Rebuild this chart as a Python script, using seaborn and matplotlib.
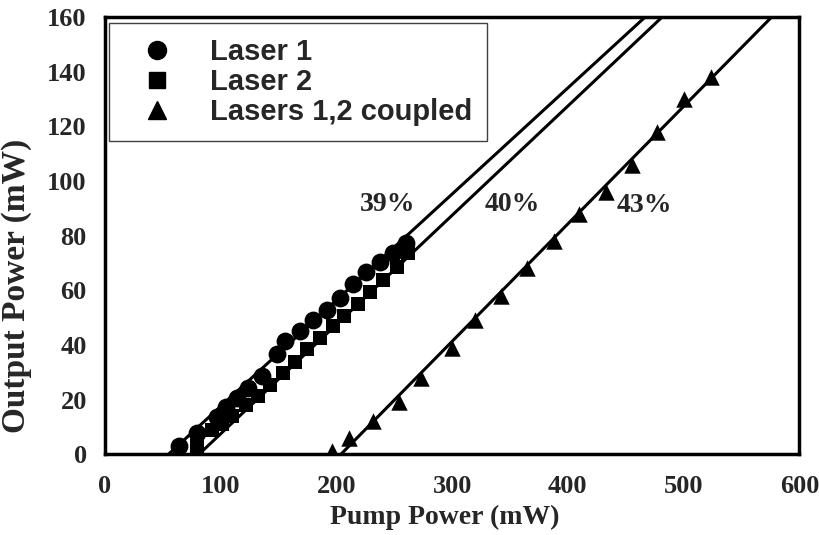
import matplotlib
matplotlib.use("Agg")
import matplotlib.pyplot as plt
from matplotlib.lines import Line2D
import seaborn as sns

# ---- data ----
laser1_pump = [64, 80, 97, 105, 114, 124, 136, 149, 156, 169, 180, 192, 203, 214, 226, 238, 249, 260]
laser1_out = [2.9, 7.7, 13.6, 17.2, 20.5, 24.2, 28.6, 36.6, 41.4, 45.1, 49.1, 52.7, 57.1, 62.3, 66.7, 70.3, 73.6, 77.3]

laser2_pump = [80, 93, 101, 110, 122, 132, 143, 154, 164, 175, 186, 197, 207, 219, 229, 240, 252, 262]
laser2_out = [2.9, 8.8, 11.0, 13.9, 18.0, 21.2, 25.3, 29.7, 33.7, 38.5, 42.5, 46.9, 50.5, 55.0, 59.3, 63.7, 68.5, 73.6]

coupled_pump = [196, 211, 232, 254, 273, 300, 320, 342, 365, 388, 410, 433, 455, 477, 500, 524]
coupled_out = [1.0, 6.0, 12.0, 19.0, 28.0, 39.0, 49.0, 58.0, 68.0, 78.0, 88.0, 96.0, 106.0, 118.0, 130.0, 138.0]

# linear fits (end points)
fit1_x = [55, 466.7]
fit1_y = [0, 160]
fit2_x = [81.4, 481.4]
fit2_y = [0, 160]
fit3_x = [204, 576]
fit3_y = [0, 160]

slope_labels = ["39%", "40%", "43%"]
slope_label_x = [244, 352, 466]
slope_label_y = [91.5, 91.5, 91.0]

series_names = ["Laser 1", "Laser 2", "Lasers 1,2 coupled"]
x_ticks = [0, 100, 200, 300, 400, 500, 600]
y_ticks = [0, 20, 40, 60, 80, 100, 120, 140, 160]

# ---- figure ----
sns.set_theme(style="white")
plt.rcParams['font.family'] = ['Liberation Serif', 'DejaVu Serif']

fig = plt.figure(figsize=(8.19, 5.35), dpi=100)
ax = fig.add_axes([0.128, 0.151, 0.848, 0.817])

for fx, fy in [(fit1_x, fit1_y), (fit2_x, fit2_y), (fit3_x, fit3_y)]:
    sns.lineplot(x=fx, y=fy, ax=ax, color="black", linewidth=2.2, zorder=2)

sns.scatterplot(x=laser1_pump, y=laser1_out, ax=ax, marker="o", s=165,
                color="black", edgecolor="black", linewidth=0, zorder=3)
sns.scatterplot(x=laser2_pump, y=laser2_out, ax=ax, marker="s", s=115,
                color="black", edgecolor="black", linewidth=0, zorder=3)
sns.scatterplot(x=coupled_pump, y=coupled_out, ax=ax, marker="^", s=140,
                color="black", edgecolor="black", linewidth=0, zorder=3)

for t, lx, ly in zip(slope_labels, slope_label_x, slope_label_y):
    ax.text(lx, ly, t, ha="center", va="center",
            fontsize=20, fontweight="bold", family="Liberation Serif")

ax.set_xlim(0, 600)
ax.set_ylim(0, 160)
ax.set_xticks(x_ticks)
ax.set_yticks(y_ticks)
ax.tick_params(axis="both", direction="out", length=6, width=2, color="black",
               labelsize=19)
for lab in ax.get_xticklabels() + ax.get_yticklabels():
    lab.set_fontweight("bold")
for sp in ax.spines.values():
    sp.set_linewidth(2.5)
    sp.set_color("black")
ax.tick_params(axis="x", pad=9)
ax.tick_params(axis="y", pad=7)

ax.set_xlabel("Pump Power (mW)", fontsize=20, fontweight="bold")
ax.set_ylabel("Output Power (mW)", fontsize=24, fontweight="bold")
ax.xaxis.set_label_coords(0.49, -0.115)
ax.yaxis.set_label_coords(-0.105, 0.385)

handles = [
    Line2D([], [], linestyle="none", marker="o", markersize=13, color="black"),
    Line2D([], [], linestyle="none", marker="s", markersize=11, color="black"),
    Line2D([], [], linestyle="none", marker="^", markersize=13, color="black"),
]
leg = ax.legend(handles, series_names, loc="upper left", bbox_to_anchor=(0.006, 0.986),
                borderaxespad=0, frameon=True, fancybox=False, framealpha=1,
                edgecolor="#404040", handlelength=2.28, handletextpad=0.68,
                borderpad=0.5, labelspacing=0.08,
                prop={"family": "Liberation Sans", "weight": "bold", "size": 21})
leg.get_frame().set_linewidth(1.0)

fig.savefig("out.png", dpi=100)
